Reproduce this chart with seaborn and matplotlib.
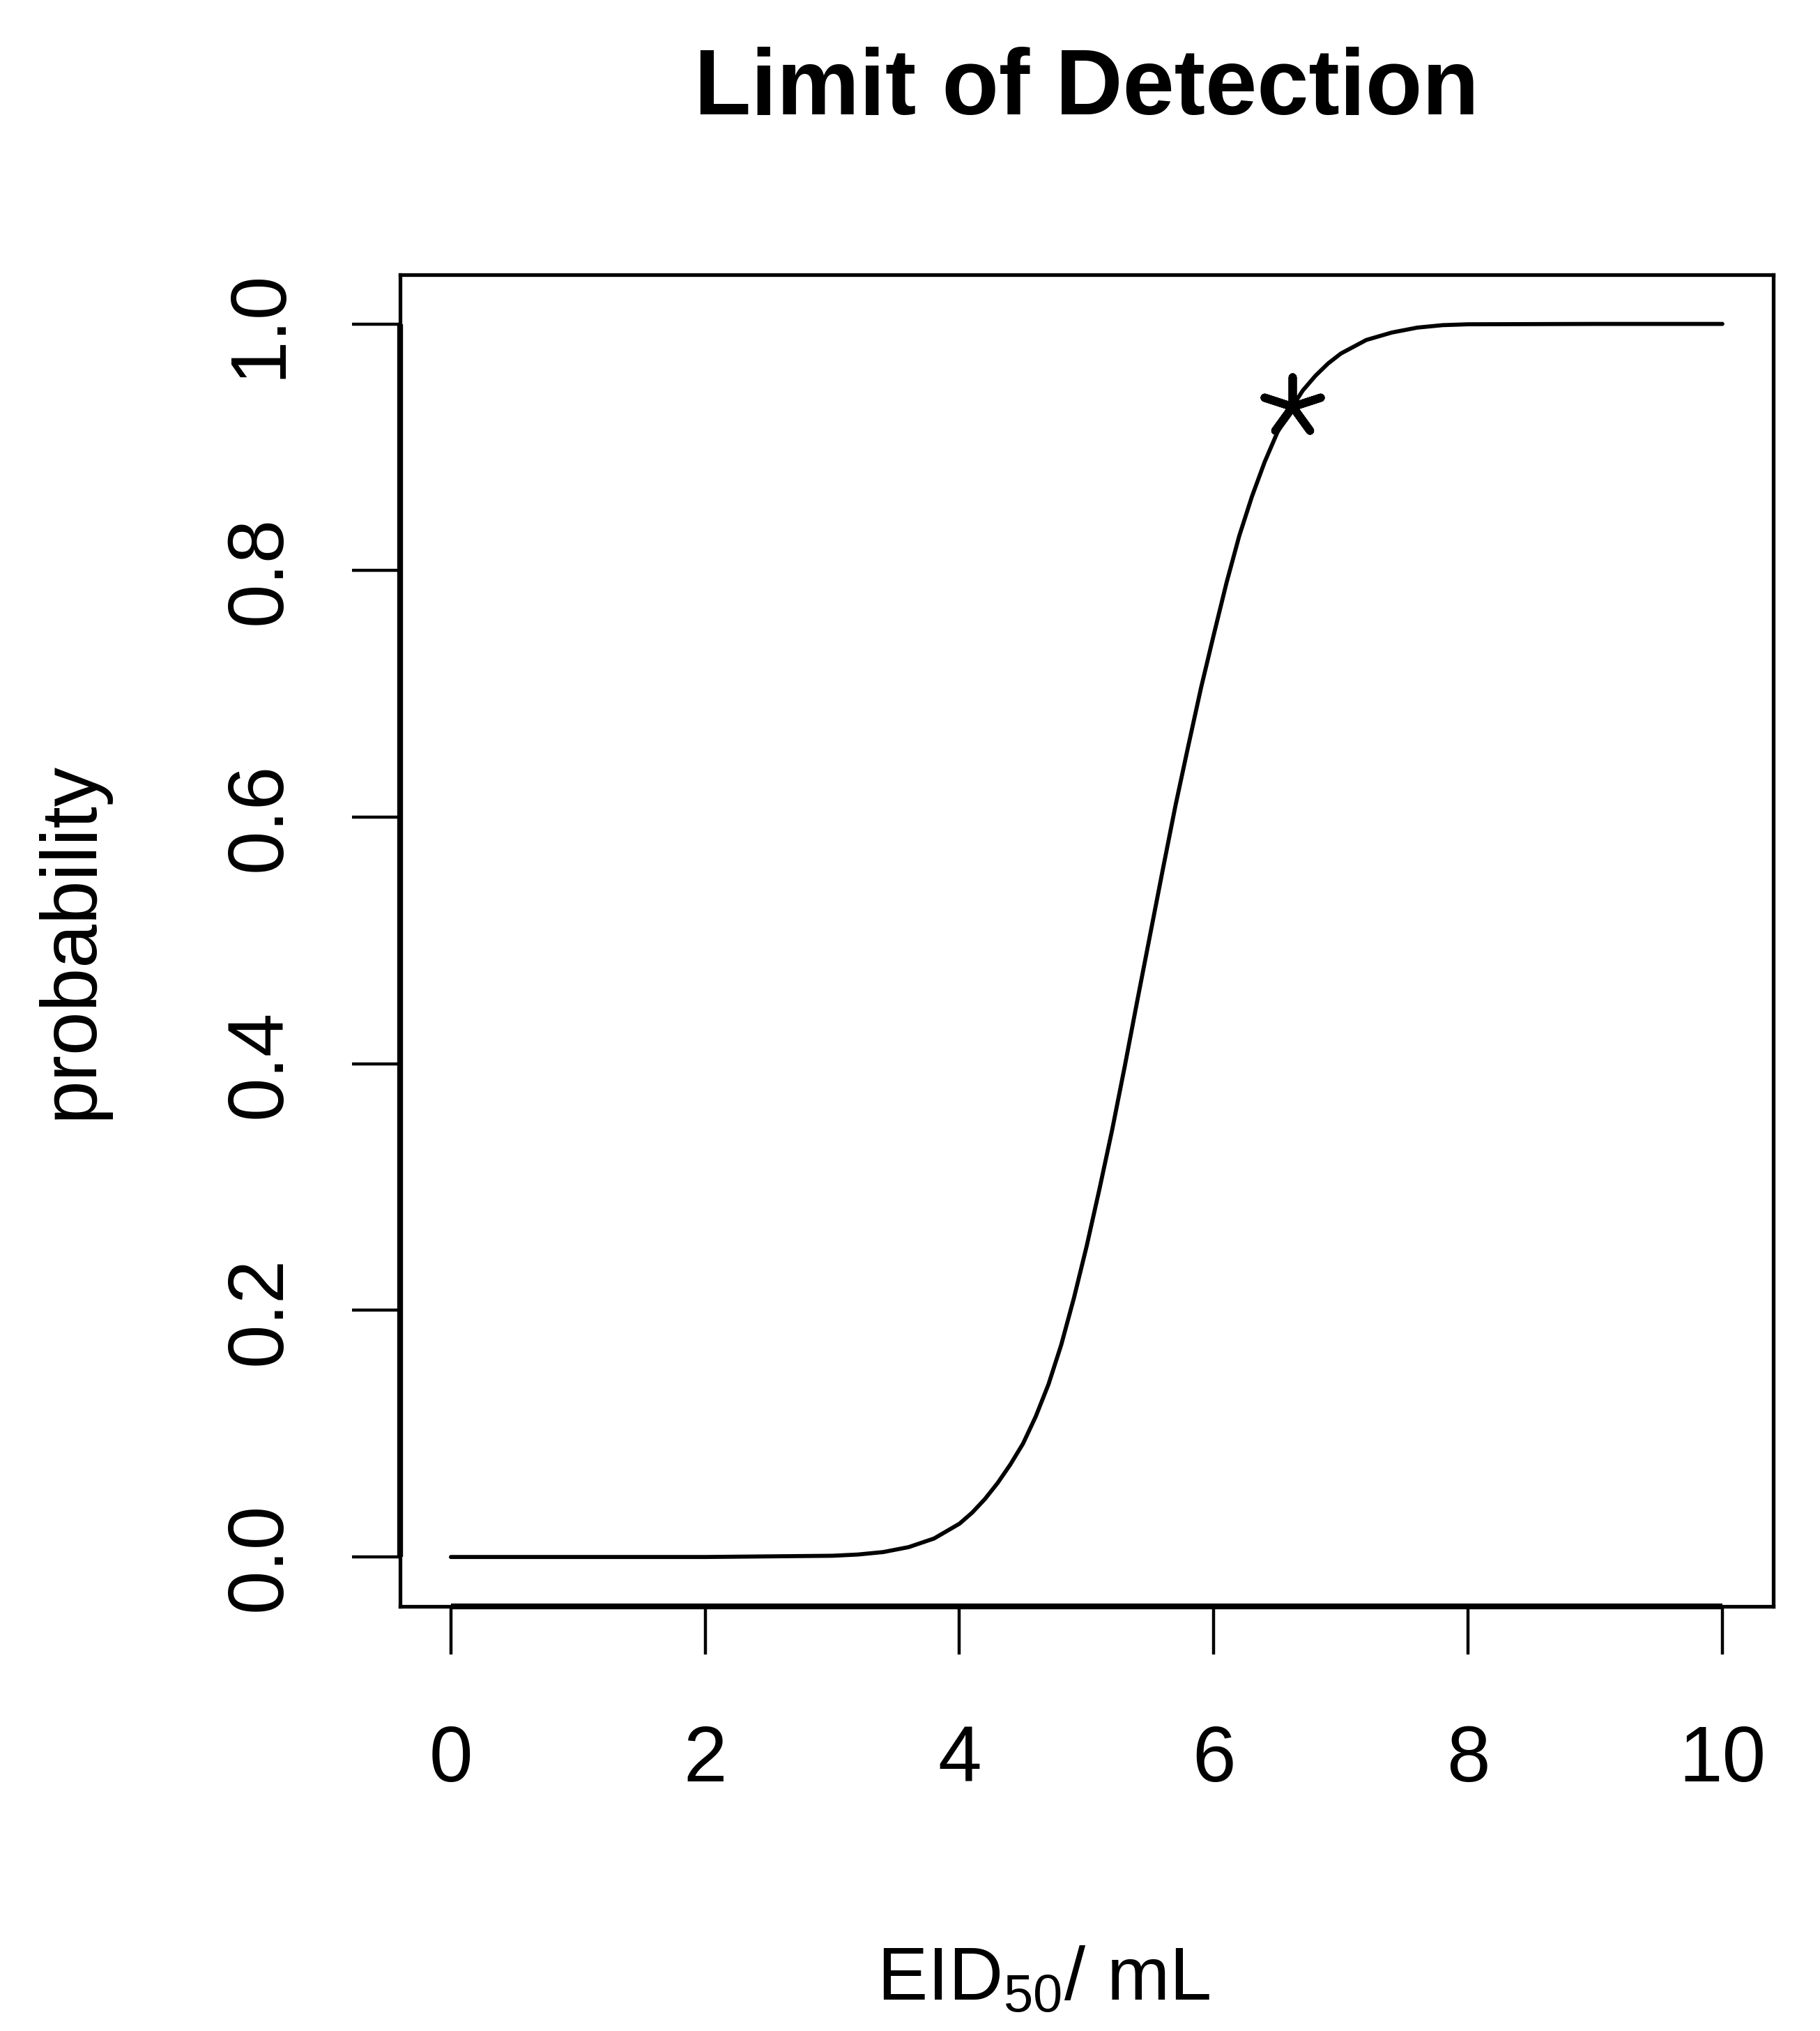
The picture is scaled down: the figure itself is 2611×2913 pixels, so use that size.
import numpy as np
import pandas as pd
import matplotlib
matplotlib.use('Agg')
import matplotlib.pyplot as plt
import seaborn as sns

# =============================================
# values

dose = [0, 1, 2, 3.0, 3.2, 3.4, 3.6, 3.8, 4.0, 4.1, 4.2, 4.3, 4.4, 4.5, 4.6,
        4.7, 4.8, 4.9, 5.0, 5.1, 5.2, 5.3, 5.4, 5.5, 5.6, 5.7, 5.8, 5.9, 6.0,
        6.1, 6.2, 6.3, 6.4, 6.5, 6.6, 6.7, 6.8, 6.9, 7.0, 7.2, 7.4, 7.6, 7.8,
        8.0, 9.0, 10]
probability = [0, 0, 0, 0.001, 0.002, 0.004, 0.008, 0.015, 0.027, 0.036, 0.047,
               0.060, 0.075, 0.092, 0.114, 0.140, 0.172, 0.210, 0.252, 0.298,
               0.346, 0.398, 0.452, 0.505, 0.558, 0.610, 0.658, 0.705, 0.748,
               0.790, 0.828, 0.860, 0.888, 0.912, 0.930, 0.946, 0.958, 0.968,
               0.976, 0.987, 0.993, 0.997, 0.999, 0.9997, 1.0, 1.0]

# limit of detection point (the asterisk)
lod_dose = [6.62]
lod_prob = [0.933]

x_ticks = [0, 2, 4, 6, 8, 10]
y_ticks = [0.0, 0.2, 0.4, 0.6, 0.8, 1.0]
y_tick_labels = ['0.0', '0.2', '0.4', '0.6', '0.8', '1.0']

# =============================================

sns.set_style('ticks')
plt.rcParams['font.family'] = ['Liberation Sans', 'DejaVu Sans']
plt.rcParams['text.color'] = 'black'
plt.rcParams['axes.labelcolor'] = 'black'
plt.rcParams['mathtext.fontset'] = 'custom'
plt.rcParams['mathtext.rm'] = 'Liberation Sans'
plt.rcParams['mathtext.it'] = 'Liberation Sans'
plt.rcParams['mathtext.default'] = 'regular'

curve = pd.DataFrame({'dose': dose, 'probability': probability})
lod = pd.DataFrame({'dose': lod_dose, 'probability': lod_prob})

fig = plt.figure(figsize=(26.11, 29.13), dpi=100)
ax = fig.add_axes([0.2198, 0.2091, 0.7545, 0.6557])

sns.lineplot(x='dose', y='probability', data=curve, color='black',
             linewidth=4.2, estimator=None, ax=ax)
sns.scatterplot(x='dose', y='probability', data=lod, marker=(5, 2, 0),
                s=3700, color='black', linewidth=8.5, ax=ax, zorder=3)

ax.set_xlim(-0.4, 10.4)
ax.set_ylim(-0.04, 1.04)

for side in ['top', 'right', 'bottom', 'left']:
    ax.spines[side].set_visible(True)
    ax.spines[side].set_linewidth(3.8)
    ax.spines[side].set_color('black')

# R style axis lines from first to last tick, sitting on the box
ax.plot([0, 0], [y_ticks[0], y_ticks[-1]], transform=ax.get_yaxis_transform(),
        color='black', linewidth=6, clip_on=False, solid_capstyle='butt')
ax.plot([x_ticks[0], x_ticks[-1]], [0, 0], transform=ax.get_xaxis_transform(),
        color='black', linewidth=6, clip_on=False, solid_capstyle='butt')

ax.set_xticks(x_ticks)
ax.set_xticklabels([str(t) for t in x_ticks])
ax.set_yticks(y_ticks, y_tick_labels, rotation=90, va='center', ha='right')
ax.tick_params(axis='both', direction='out', length=50, width=3.2,
               color='black', labelsize=81, labelcolor='black')
ax.tick_params(axis='x', pad=72)
ax.tick_params(axis='y', pad=56)

ax.text(0.5, 1.1204, 'Limit of Detection', transform=ax.transAxes,
        ha='center', va='baseline', fontsize=96, fontweight='bold', color='black')

ax.set_xlabel(r'EID$_{50}$/ mL', fontsize=78)
ax.xaxis.label.set_va('baseline')
ax.xaxis.set_label_coords(0.4685, -0.2958)

ax.set_ylabel('probability', fontsize=81)
ax.yaxis.label.set_va('baseline')
ax.yaxis.label.set_rotation_mode('anchor')
ax.yaxis.set_label_coords(-0.2244, 0.5)

fig.savefig('out.png', dpi=100, facecolor='white')
